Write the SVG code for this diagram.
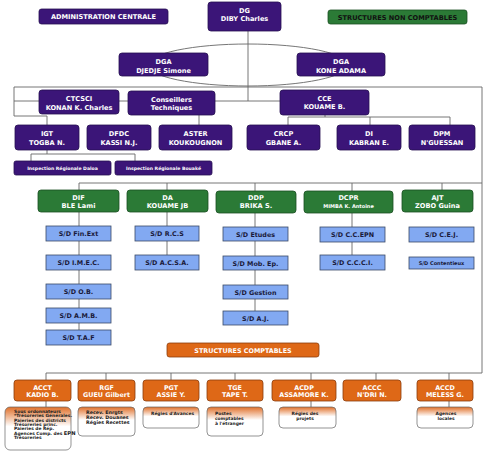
<svg xmlns="http://www.w3.org/2000/svg" width="488" height="451" viewBox="0 0 488 451">
<defs>
<linearGradient id="og" x1="0" y1="0" x2="0" y2="1">
<stop offset="0" stop-color="#e0702a"/>
<stop offset="0.45" stop-color="#ffffff"/>
<stop offset="1" stop-color="#ffffff"/>
</linearGradient>
<style>
text{font-family:"DejaVu Sans","Liberation Sans",sans-serif;font-weight:bold;text-anchor:middle}
.p rect{fill:#3b1578;stroke:#261050;stroke-width:0.8}
.p text{fill:#ffffff;font-size:6.6px}
.g rect{fill:#2b7a36;stroke:#1b4e22;stroke-width:0.8}
.g text{fill:#ffffff;font-size:6.6px}
.b rect{fill:#82a9f2;stroke:#3b4a66;stroke-width:0.8}
.b text{fill:#1a1a3a;font-size:6.4px}
.o rect{fill:#de6817;stroke:#8a3c0c;stroke-width:0.8}
.o text{fill:#ffffff;font-size:6.4px}
.s rect{fill:url(#og);stroke:#666;stroke-width:0.7}
.s text{fill:#222;font-size:4.4px}
.l{fill:none;stroke:#666;stroke-width:0.9}
</style>
</defs>
<rect width="488" height="451" fill="#ffffff"/>

<g id="connectors" class="l">
<ellipse cx="248" cy="65" rx="100" ry="21"/>
<path d="M248 31V101"/>
<path d="M14 87H482V373"/>
<path d="M14 87V116H47V125"/>
<path d="M14 101H280"/>
<path d="M199 115V125"/>
<path d="M325 115V117M288 125V117H450V125M370 117V125"/>
<path d="M47 150V154H31V161M47 154H135V161"/>
<path d="M79 190V183H482M167 183V190M255 183V191M352 183V191M442 183V190"/>
<path d="M79 212V330"/>
<path d="M167 212V255"/>
<path d="M255 213V311"/>
<path d="M352 213V255"/>
<path d="M46 380V373H482M106 373V380M171 373V380M235 373V380M311 373V380M376 373V380M449 373V380"/>
<path d="M46 401V407M311 401V407M449 401V407"/>
</g>

<g id="admin" class="p"><rect x="39" y="9" width="129" height="15" rx="2.5"/><text x="103.5" y="19">ADMINISTRATION CENTRALE</text></g>
<g id="dg" class="p"><rect x="208" y="2" width="73" height="29" rx="3"/><text x="244.5" y="12.5">DG</text><text x="244.5" y="20.5">DIBY Charles</text></g>
<g id="snc" class="g"><rect x="328" y="10" width="139" height="14" rx="2.5"/><text x="397.5" y="19.5" style="fill:#111">STRUCTURES NON COMPTABLES</text></g>
<g id="dga1" class="p"><rect x="119" y="53" width="89" height="23" rx="3"/><text x="163.5" y="64">DGA</text><text x="163.5" y="72.5">DJEDJE Simone</text></g>
<g id="dga2" class="p"><rect x="297" y="53" width="88" height="23" rx="3"/><text x="341" y="64">DGA</text><text x="341" y="72.5">KONE ADAMA</text></g>

<g id="ctcsci" class="p"><rect x="39" y="90" width="80" height="24" rx="3"/><text x="79" y="101">CTCSCI</text><text x="79" y="109.5">KONAN K. Charles</text></g>
<g id="conseillers" class="p"><rect x="128" y="91" width="87" height="24" rx="3"/><text x="171.5" y="101.5">Conseillers</text><text x="171.5" y="109.5">Techniques</text></g>
<g id="cce" class="p"><rect x="280" y="90" width="89" height="25" rx="3"/><text x="324.5" y="100.5">CCE</text><text x="324.5" y="108.5">KOUAME B.</text></g>

<g id="igt" class="p"><rect x="15" y="125" width="64" height="25" rx="3"/><text x="47" y="135.5">IGT</text><text x="47" y="144.5">TOGBA N.</text></g>
<g id="dfdc" class="p"><rect x="87" y="125" width="64" height="25" rx="3"/><text x="119" y="135.5">DFDC</text><text x="119" y="144.5">KASSI N.J.</text></g>
<g id="aster" class="p"><rect x="159" y="125" width="73" height="25" rx="3"/><text x="195.5" y="135.5">ASTER</text><text x="195.5" y="144.5">KOUKOUGNON</text></g>
<g id="crcp" class="p"><rect x="247" y="125" width="73" height="25" rx="3"/><text x="283.5" y="135.5">CRCP</text><text x="283.5" y="144.5">GBANE A.</text></g>
<g id="di" class="p"><rect x="337" y="125" width="64" height="25" rx="3"/><text x="369" y="135.5">DI</text><text x="369" y="144.5">KABRAN E.</text></g>
<g id="dpm" class="p"><rect x="409" y="125" width="66" height="25" rx="3"/><text x="442" y="135.5">DPM</text><text x="442" y="144.5">N'GUESSAN</text></g>

<g id="ir-daloa" class="p"><rect x="14" y="161" width="97" height="14" rx="2"/><text x="62.5" y="169.5" style="font-size:4.6px">Inspection Régionale Daloa</text></g>
<g id="ir-bouake" class="p"><rect x="115" y="161" width="97" height="14" rx="2"/><text x="163.5" y="169.5" style="font-size:4.6px">Inspection Régionale Bouaké</text></g>

<g id="dif" class="g"><rect x="38" y="190" width="81" height="22" rx="3"/><text x="78.5" y="199.5">DIF</text><text x="78.5" y="207.5">BLE Lami</text></g>
<g id="da" class="g"><rect x="127" y="190" width="81" height="22" rx="3"/><text x="167.5" y="199.5">DA</text><text x="167.5" y="207.5">KOUAME JB</text></g>
<g id="ddp" class="g"><rect x="216" y="191" width="80" height="22" rx="3"/><text x="256" y="200">DDP</text><text x="256" y="208">BRIKA S.</text></g>
<g id="dcpr" class="g"><rect x="304" y="191" width="89" height="22" rx="3"/><text x="348.5" y="200">DCPR</text><text x="348.5" y="208" style="font-size:5px">MIMBA K. Antoine</text></g>
<g id="ajt" class="g"><rect x="402" y="190" width="71" height="22" rx="3"/><text x="437.5" y="199.5">AJT</text><text x="437.5" y="207.5">ZOBO Guina</text></g>

<g id="sd-finext" class="b"><rect x="46" y="226" width="65" height="15"/><text x="78.5" y="236">S/D Fin.Ext</text></g>
<g id="sd-imec" class="b"><rect x="46" y="255" width="65" height="15"/><text x="78.5" y="265">S/D I.M.E.C.</text></g>
<g id="sd-ob" class="b"><rect x="46" y="284" width="65" height="15"/><text x="78.5" y="294">S/D O.B.</text></g>
<g id="sd-amb" class="b"><rect x="46" y="308" width="65" height="15"/><text x="78.5" y="318">S/D A.M.B.</text></g>
<g id="sd-taf" class="b"><rect x="46" y="330" width="65" height="15"/><text x="78.5" y="340">S/D T.A.F</text></g>

<g id="sd-rcs" class="b"><rect x="135" y="226" width="64" height="15"/><text x="167" y="236">S/D R.C.S</text></g>
<g id="sd-acsa" class="b"><rect x="135" y="255" width="64" height="15"/><text x="167" y="265">S/D A.C.S.A.</text></g>

<g id="sd-etudes" class="b"><rect x="223" y="227" width="65" height="14"/><text x="255.5" y="236.5">S/D Etudes</text></g>
<g id="sd-mob" class="b"><rect x="223" y="256" width="65" height="14"/><text x="255.5" y="265.5">S/D Mob. Ep.</text></g>
<g id="sd-gestion" class="b"><rect x="223" y="285" width="65" height="14"/><text x="255.5" y="294.5">S/D Gestion</text></g>
<g id="sd-aj" class="b"><rect x="223" y="311" width="65" height="14"/><text x="255.5" y="320.5">S/D A.J.</text></g>

<g id="sd-ccepn" class="b"><rect x="320" y="227" width="65" height="15"/><text x="352.5" y="237">S/D C.C.EPN</text></g>
<g id="sd-ccci" class="b"><rect x="320" y="255" width="65" height="15"/><text x="352.5" y="265">S/D C.C.C.I.</text></g>

<g id="sd-cej" class="b"><rect x="409" y="227" width="65" height="15"/><text x="441.5" y="237">S/D C.E.J.</text></g>
<g id="sd-contentieux" class="b"><rect x="409" y="257" width="65" height="12"/><text x="441.5" y="264.8" style="font-size:5px">S/D Contentieux</text></g>

<g id="sc" class="o"><rect x="167" y="343" width="152" height="14" rx="2.5"/><text x="243" y="352.5">STRUCTURES COMPTABLES</text></g>

<g id="acct" class="o"><rect x="14" y="380" width="57" height="21" rx="3"/><text x="42.5" y="389.5">ACCT</text><text x="42.5" y="396.5">KADIO B.</text></g>
<g id="rgf" class="o"><rect x="78" y="380" width="57" height="21" rx="3"/><text x="106.5" y="389.5">RGF</text><text x="106.5" y="396.5">GUEU Gilbert</text></g>
<g id="pgt" class="o"><rect x="143" y="380" width="56" height="21" rx="3"/><text x="171" y="389.5">PGT</text><text x="171" y="396.5">ASSIE Y.</text></g>
<g id="tge" class="o"><rect x="207" y="380" width="56" height="21" rx="3"/><text x="235" y="389.5">TGE</text><text x="235" y="396.5">TAPE T.</text></g>
<g id="acdp" class="o"><rect x="272" y="380" width="64" height="21" rx="3"/><text x="304" y="389.5">ACDP</text><text x="304" y="396.5">ASSAMORE K.</text></g>
<g id="accc" class="o"><rect x="343" y="380" width="58" height="21" rx="3"/><text x="372" y="389.5">ACCC</text><text x="372" y="396.5">N'DRI N.</text></g>
<g id="accd" class="o"><rect x="417" y="380" width="56" height="21" rx="3"/><text x="445" y="389.5">ACCD</text><text x="445" y="396.5">MELESS  G.</text></g>

<g id="acct-sub" class="s"><rect x="5" y="407" width="66" height="43" rx="5"/>
<text x="14" y="413" style="text-anchor:start">Sous ordonnateurs</text>
<text x="14" y="417.3" style="text-anchor:start">*Trésoreries Générales.</text>
<text x="14" y="421.6" style="text-anchor:start">Paieries des districts</text>
<text x="14" y="425.9" style="text-anchor:start">Trésoreries princ.</text>
<text x="14" y="430.2" style="text-anchor:start">Paieries de Rép.</text>
<text x="14" y="434.5" style="text-anchor:start">Agences Comp. des <tspan style="font-size:5.2px">EPN</tspan></text>
<text x="14" y="438.8" style="text-anchor:start">Trésoreries</text>
</g>
<g id="rgf-sub" class="s"><rect x="78" y="407" width="57" height="29" rx="4"/>
<text x="86" y="414" style="text-anchor:start;font-size:4.8px">Recev. Enrgts</text>
<text x="86" y="419" style="text-anchor:start;font-size:4.8px">Recev. Douanes</text>
<text x="86" y="424" style="text-anchor:start;font-size:4.8px">Régies Recettes</text>
</g>
<g id="pgt-sub" class="s"><rect x="143" y="407" width="56" height="21" rx="4"/>
<text x="151" y="414.5" style="text-anchor:start">Régies d'Avances</text>
</g>
<g id="tge-sub" class="s"><rect x="207" y="407" width="56" height="29" rx="4"/>
<text x="215" y="414.5" style="text-anchor:start">Postes</text>
<text x="215" y="419.5" style="text-anchor:start">comptables</text>
<text x="215" y="424.5" style="text-anchor:start">à l'étranger</text>
</g>
<g id="acdp-sub" class="s"><rect x="279" y="407" width="57" height="21" rx="4"/>
<text x="305" y="414.5">Régies des</text>
<text x="305" y="419.5">projets</text>
</g>
<g id="accd-sub" class="s"><rect x="417" y="407" width="56" height="21" rx="4"/>
<text x="446" y="414.5">Agences</text>
<text x="446" y="419.5">locales</text>
</g>
</svg>
